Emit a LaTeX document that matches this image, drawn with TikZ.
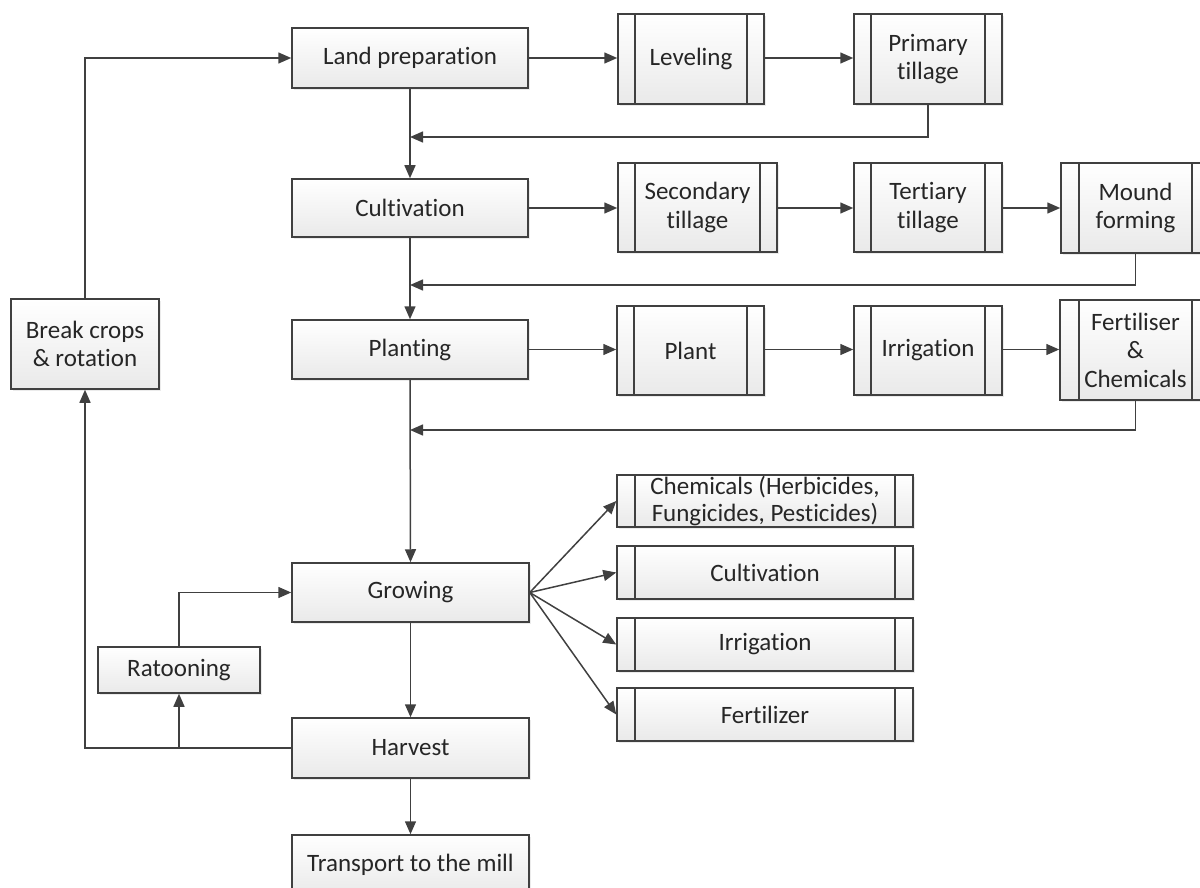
\documentclass[tikz,border=0pt]{standalone}
\usepackage{fontspec}
\setmainfont[RawFeature=-liga]{Carlito}
\usetikzlibrary{arrows.meta,shadows,calc}
\definecolor{ln}{HTML}{404040}
\definecolor{tx}{HTML}{262626}
\tikzset{
  box/.style={draw=ln, line width=1.5pt, top color=white, bottom color=gray!17,
    drop shadow={shadow xshift=1.6pt, shadow yshift=-1.6pt, opacity=0.16},
    inner sep=0pt, align=center, text=tx, font=\fontsize{25}{28.5}\selectfont},
  proc/.style={box, path picture={
    \draw[ln, line width=1.5pt]
      ([xshift=#1]path picture bounding box.north west) -- ([xshift=#1]path picture bounding box.south west)
      ([xshift=-#1]path picture bounding box.north east) -- ([xshift=-#1]path picture bounding box.south east);}},
  proc/.default=17pt,
  conn/.style={draw=ln, line width=1.5pt, -{Triangle[length=13pt,width=11pt]}},
}
\begin{document}
\begin{tikzpicture}[x=1pt,y=-1pt]
\useasboundingbox (0,0) rectangle (1200,888);

% main sequence
\node[box, minimum width=236pt, minimum height=60pt] (land)  at (410,58)    {Land preparation};
\node[box, minimum width=236pt, minimum height=58pt] (cult)  at (410,208)   {Cultivation};
\node[box, minimum width=236pt, minimum height=59pt] (plnt)  at (410,349.5) {Planting};
\node[box, minimum width=237pt, minimum height=59pt] (grow)  at (410.5,592.5) {Growing};
\node[box, minimum width=237pt, minimum height=60pt] (harv)  at (410.5,748) {Harvest};
\node[box, minimum width=237pt, minimum height=60pt] (trans) at (410.5,865) {Transport to the mill};

% side loop boxes
\node[box, minimum width=162pt, minimum height=46pt] (rat) at (179,670) {Ratooning};
\node[box, minimum width=148pt, minimum height=90pt] (brk) at (85,344)  {Break crops\\\& rotation};

% land preparation steps
\node[proc, minimum width=146pt, minimum height=90pt] (lev)  at (691,59) {Leveling};
\node[proc, minimum width=148pt, minimum height=90pt] (prim) at (928,59) {Primary\\tillage};

% cultivation steps
\node[proc, minimum width=159pt, minimum height=89pt] (sec)  at (697.5,207.5) {Secondary\\tillage};
\node[proc, minimum width=148pt, minimum height=89pt] (ter)  at (928,207.5)   {Tertiary\\tillage};
\node[proc=18pt, minimum width=149pt, minimum height=90pt] (mnd) at (1135.5,208) {Mound\\forming};

% planting steps
\node[proc, minimum width=147pt, minimum height=89pt] (pl)   at (690.5,350.5) {Plant};
\node[proc, minimum width=148pt, minimum height=89pt] (irr)  at (928,350.5)   {Irrigation};
\node[proc=19pt, minimum width=151pt, minimum height=100pt] (fch) at (1135.5,350) {Fertiliser\\\&\\Chemicals};

% growing activities
\node[proc=18pt, minimum width=296pt, minimum height=52pt] (chem) at (765,501)   {Chemicals (Herbicides,\\[-1pt]Fungicides, Pesticides)};
\node[proc=18pt, minimum width=296pt, minimum height=53pt] (gcul) at (765,572.5) {Cultivation};
\node[proc=18pt, minimum width=296pt, minimum height=53pt] (girr) at (765,644.5) {Irrigation};
\node[proc=18pt, minimum width=296pt, minimum height=53pt] (gfer) at (765,714.5) {Fertilizer};

% return points on the main spine
\coordinate (r1) at (410,137);
\coordinate (r2) at (410,285);
\coordinate (r3) at (410,430);

% horizontal chains
\draw[conn] (land.east) -- (land.east -| lev.west);
\draw[conn] (lev.east |- land.east) -- (land.east -| prim.west);
\draw[conn] (cult.east) -- (cult.east -| sec.west);
\draw[conn] (sec.east |- cult.east) -- (cult.east -| ter.west);
\draw[conn] (ter.east |- cult.east) -- (cult.east -| mnd.west);
\draw[conn] (plnt.east) -- (plnt.east -| pl.west);
\draw[conn] (pl.east |- plnt.east) -- (plnt.east -| irr.west);
\draw[conn] (irr.east |- plnt.east) -- (plnt.east -| fch.west);

% returns to the spine
\draw[conn] (prim.south) |- (r1);
\draw[conn] (mnd.south) |- (r2);
\draw[conn] (fch.south) |- (r3);

% spine
\draw[conn] (land.south) -- (cult.north);
\draw[conn] (cult.south) -- (plnt.north);
\draw[conn] (plnt.south) -- (grow.north);
\draw[conn] (grow.south) -- (harv.north);
\draw[conn] (harv.south) -- (trans.north);

% growing fan-out
\draw[conn] (grow.east) -- (chem.west);
\draw[conn] (grow.east) -- (gcul.west);
\draw[conn] (grow.east) -- (girr.west);
\draw[conn] (grow.east) -- (gfer.west);

% harvest loops
\coordinate (hj) at (rat.south |- harv.west);
\draw[conn] (harv.west) -| (brk.south);
\draw[conn] (hj) -- (rat.south);
\draw[conn] (rat.north) |- (grow.west);
\draw[conn] (brk.north) |- (land.west);
\end{tikzpicture}
\end{document}
